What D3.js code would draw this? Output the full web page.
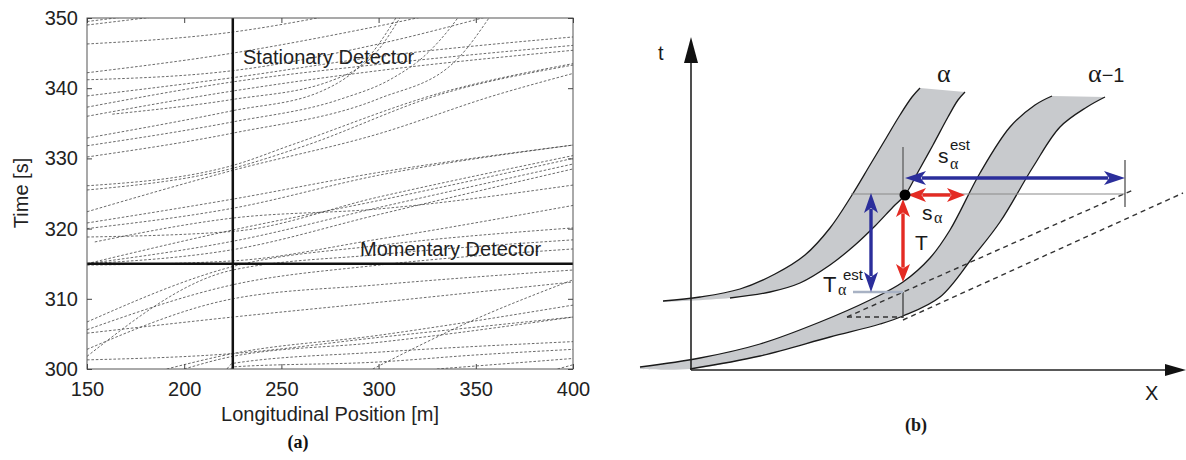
<!DOCTYPE html>
<html><head><meta charset="utf-8">
<script src="https://cdn.jsdelivr.net/npm/d3@7"></script>
<style>body{margin:0;background:#fff}svg{display:block}</style>
</head><body>
<svg id="c" width="1186" height="460"></svg>
<script>
// ---------- Panel (a) data ----------
const xTicks = [150, 200, 250, 300, 350, 400];
const tTicks = [300, 310, 320, 330, 340, 350];
const stationaryX = 225;
const momentaryT = 315;
// vehicle trajectories: [position m, time s]
const trajectories = [
  [[150,349.5],[200,351.2]],
  [[150,349.0],[210,351.0]],
  [[150,346.3],[225,348.0],[280,350.6]],
  [[150,342.2],[225,345.0],[290,348.3],[330,350.6]],
  [[150,341.2],[225,342.5],[300,346.3],[360,350.5]],
  [[150,338.9],[225,341.5],[300,344.5],[400,347.3]],
  [[150,337.3],[225,340.9],[300,343.4],[400,346.1]],
  [[150,336.0],[225,339.6],[300,342.5],[400,345.4]],
  [[163,336.3],[225,338.4],[275,341.0],[300,345.5],[312,350.5]],
  [[150,332.9],[225,336.8],[270,339.5],[296,344.8],[310,350.5]],
  [[150,331.8],[225,335.2],[280,338.4],[307,341.4],[324,344.7],[338,349.0],[342,350.5]],
  [[150,330.2],[225,333.6],[300,338.5],[340,344.0],[358,350.5]],
  [[150,326.1],[225,329.0],[255,331.9],[334,339.5],[400,343.5]],
  [[150,325.5],[225,328.6],[260,331.6],[334,339.3],[400,343.3]],
  [[150,322.4],[225,328.3],[300,333.5],[360,339.0],[400,342.1]],
  [[150,320.8],[225,324.2],[300,328.0],[400,331.9]],
  [[150,320.0],[225,322.9],[300,327.6],[400,331.9]],
  [[150,318.8],[225,319.6],[300,324.5],[400,330.4]],
  [[154,318.1],[225,321.5],[300,322.8],[400,326.2]],
  [[150,315.0],[225,319.8],[300,324.0],[400,330.0]],
  [[150,315.0],[225,318.2],[300,323.0],[400,329.2]],
  [[150,315.0],[225,317.0],[300,322.0],[400,328.5]],
  [[150,314.8],[225,315.4],[300,318.5],[400,323.3]],
  [[150,306.7],[225,314.6],[300,317.6],[400,320.1]],
  [[150,301.8],[225,314.1],[300,316.3],[400,318.4]],
  [[150,305.6],[225,312.0],[300,314.8],[400,317.1]],
  [[150,302.8],[225,310.0],[300,312.0],[400,314.1]],
  [[150,305.1],[225,307.4],[300,309.5],[400,312.4]],
  [[150,301.3],[225,302.2],[300,304.5],[400,307.4]],
  [[191,300.0],[225,302.2],[300,304.8],[400,309.1]],
  [[200,300.0],[225,301.8],[300,303.8],[400,307.4]],
  [[222,300.0],[225,300.8],[300,302.4],[400,303.9]],
  [[224,300.0],[225,300.3],[300,301.0],[350,302.0],[400,302.8]],
  [[297,300.0],[349,307.0],[400,312.7]],
  [[330,300.0],[400,301.5]],
  [[392,300.0],[400,300.6]]
];

// ---------- Panel (b) data (diagram units: u right, v up from origin) ----------
const alphaUpper = [[-28,69],[9,73],[49,81],[84,96],[114,115],[139,142],[161,175],[179,205],[194,230],[209,255],[221,273],[229,282]];
const alphaLower = [[-28,68],[39,72],[79,78],[109,87],[139,105],[164,125],[184,144],[202,163],[214,175],[227,198],[242,225],[257,253],[267,270],[274,278]];
const prevUpper = [[-51,3],[9,12],[69,26],[129,48],[179,70],[212,88],[239,112],[259,140],[289,197],[319,243],[344,265],[361,274]];
const prevLower = [[-51,1],[-1,1],[69,14],[139,33],[189,46],[212,54],[249,73],[282,113],[309,148],[342,203],[369,243],[396,263],[414,273]];
const dashedLines = [
  [[156,53],[442,180]],
  [[156,53],[212,53]],
  [[212,50],[492,177]]
];
const thinLines = [
  {p:[[160,176],[434,176]], c:"#8a8a8a", w:1.1},
  {p:[[212,175],[212,223]], c:"#555", w:1.2},
  {p:[[434,163],[434,210]], c:"#444", w:1.2},
  {p:[[212,78],[212,52]], c:"#333", w:1.2},
  {p:[[162,78],[212,78]], c:"#a8b2c4", w:2.6}
];
const arrows = [
  {p:[[214,192],[434,192]], c:"#2b2e9b", head:21},
  {p:[[217,175],[274,175]], c:"#e42b23", head:18},
  {p:[[212,171],[212,88]], c:"#e42b23", head:18},
  {p:[[180,177],[180,78]], c:"#2b2e9b", head:20}
];
const dotPoint = [214,175];

const svg = d3.select("#c");
const sans = "'Liberation Sans', Arial, Helvetica, sans-serif";
const serif = "'Liberation Serif', 'Times New Roman', serif";

// ===== Panel (a) =====
const x = d3.scaleLinear().domain([150,400]).range([87,573]);
const y = d3.scaleLinear().domain([300,350]).range([369,18]);
const ga = svg.append("g");
ga.append("clipPath").attr("id","clipA").append("rect")
  .attr("x",x(150)).attr("y",y(350)).attr("width",x(400)-x(150)).attr("height",y(300)-y(350));

const line = d3.line().x(d=>x(d[0])).y(d=>y(d[1])).curve(d3.curveMonotoneX);
ga.append("g").attr("clip-path","url(#clipA)")
  .selectAll("path").data(trajectories).join("path")
  .attr("d", line).attr("fill","none").attr("stroke","#3a3a3a")
  .attr("stroke-width",0.75).attr("stroke-dasharray","2.6,1.8");

// detectors
ga.append("line").attr("x1",x(stationaryX)).attr("x2",x(stationaryX)).attr("y1",y(350)).attr("y2",y(300))
  .attr("stroke","#111").attr("stroke-width",2.5);
ga.append("line").attr("x1",x(150)).attr("x2",x(400)).attr("y1",y(momentaryT)).attr("y2",y(momentaryT))
  .attr("stroke","#111").attr("stroke-width",2.5);

// frame
ga.append("rect").attr("x",x(150)).attr("y",y(350)).attr("width",x(400)-x(150)).attr("height",y(300)-y(350))
  .attr("fill","none").attr("stroke","#555").attr("stroke-width",1);

function styleAxis(g){
  g.select(".domain").remove();
  g.selectAll(".tick line").attr("stroke","#444");
  g.selectAll("text").attr("font-family",sans).attr("font-size",20).attr("fill","#222");
}
ga.append("g").attr("transform",`translate(0,${y(300)})`)
  .call(d3.axisBottom(x).tickValues(xTicks).tickSize(-5).tickPadding(13).tickFormat(d3.format("d"))).call(styleAxis);
ga.append("g").attr("transform",`translate(0,${y(350)})`)
  .call(d3.axisTop(x).tickValues(xTicks).tickSize(-5).tickFormat("")).call(styleAxis);
ga.append("g").attr("transform",`translate(${x(150)},0)`)
  .call(d3.axisLeft(y).tickValues(tTicks).tickSize(-5).tickPadding(9).tickFormat(d3.format("d"))).call(styleAxis);
ga.append("g").attr("transform",`translate(${x(400)},0)`)
  .call(d3.axisRight(y).tickValues(tTicks).tickSize(-5).tickFormat("")).call(styleAxis);

ga.append("text").attr("x",330).attr("y",421).attr("text-anchor","middle")
  .attr("font-family",sans).attr("font-size",20).attr("fill","#222").text("Longitudinal Position [m]");
ga.append("text").attr("transform","translate(28,193) rotate(-90)").attr("text-anchor","middle")
  .attr("font-family",sans).attr("font-size",20).attr("fill","#222").text("Time [s]");
ga.append("text").attr("x",243).attr("y",64)
  .attr("font-family",sans).attr("font-size",20).attr("fill","#222").text("Stationary Detector");
ga.append("text").attr("x",360).attr("y",256)
  .attr("font-family",sans).attr("font-size",20).attr("fill","#222").text("Momentary Detector");
ga.append("text").attr("x",298).attr("y",448).attr("text-anchor","middle")
  .attr("font-family",serif).attr("font-weight","bold").attr("font-size",18).attr("fill","#111").text("(a)");

// ===== Panel (b) =====
const bx = d3.scaleLinear().domain([0,495]).range([691,1186]);
const by = d3.scaleLinear().domain([0,333]).range([370,37]);
const gb = svg.append("g");
const edge = d3.line().x(d=>bx(d[0])).y(d=>by(d[1])).curve(d3.curveCatmullRom.alpha(0.5));

function band(upper, lower){
  const p1 = edge(upper);
  const p2 = edge(lower.slice().reverse());
  return p1 + "L" + p2.slice(1) + "Z";
}
gb.append("path").attr("d",band(alphaUpper,alphaLower)).attr("fill","#c8cacd");
gb.append("path").attr("d",band(prevUpper,prevLower)).attr("fill","#c8cacd");
[alphaUpper, alphaLower.slice(1), prevUpper, prevLower.slice(1)].forEach(pts=>{
  gb.append("path").attr("d",edge(pts)).attr("fill","none").attr("stroke","#1a1a1a").attr("stroke-width",1.3);
});

// dashed estimate lines
dashedLines.forEach(pts=>{
  gb.append("path").attr("d",d3.line().x(d=>bx(d[0])).y(d=>by(d[1]))(pts))
    .attr("fill","none").attr("stroke","#333").attr("stroke-width",1.4).attr("stroke-dasharray","5,4");
});
thinLines.forEach(l=>{
  gb.append("path").attr("d",d3.line().x(d=>bx(d[0])).y(d=>by(d[1]))(l.p))
    .attr("fill","none").attr("stroke",l.c).attr("stroke-width",l.w);
});

function doubleArrow(a){
  const [p,q] = a.p.map(d=>[bx(d[0]),by(d[1])]);
  const dx=q[0]-p[0], dy=q[1]-p[1], L=Math.hypot(dx,dy), ux=dx/L, uy=dy/L, nx=-uy, ny=ux;
  const h=a.head, w=7;
  gb.append("line").attr("x1",p[0]+ux*h*0.8).attr("y1",p[1]+uy*h*0.8)
    .attr("x2",q[0]-ux*h*0.8).attr("y2",q[1]-uy*h*0.8)
    .attr("stroke",a.c).attr("stroke-width",3.4);
  const head=(tip,dir)=>{
    const bxp=tip[0]-dir[0]*h, byp=tip[1]-dir[1]*h;
    const ix=tip[0]-dir[0]*h*0.75, iy=tip[1]-dir[1]*h*0.75;
    return `M${tip[0]},${tip[1]}L${bxp+nx*w},${byp+ny*w}L${ix},${iy}L${bxp-nx*w},${byp-ny*w}Z`;
  };
  gb.append("path").attr("d",head(q,[ux,uy])).attr("fill",a.c);
  gb.append("path").attr("d",head(p,[-ux,-uy])).attr("fill",a.c);
}
arrows.forEach(doubleArrow);
gb.append("circle").attr("cx",bx(dotPoint[0])).attr("cy",by(dotPoint[1])).attr("r",5.5).attr("fill","#000");

// axes
gb.append("line").attr("x1",bx(0)).attr("y1",by(0)).attr("x2",bx(0)).attr("y2",by(308)).attr("stroke","#222").attr("stroke-width",1.6);
gb.append("path").attr("d",`M${bx(0)},${by(333)}L${bx(0)-7},${by(307)}L${bx(0)+7},${by(307)}Z`).attr("fill","#111");
gb.append("line").attr("x1",bx(0)).attr("y1",by(0)).attr("x2",bx(476)).attr("y2",by(0)).attr("stroke","#222").attr("stroke-width",1.6);
gb.append("path").attr("d",`M${bx(495)},${by(0)}L${bx(474)},${by(0)-6}L${bx(474)},${by(0)+6}Z`).attr("fill","#111");

function txt(u,v,s,opts){
  const t=gb.append("text").attr("x",bx(u)).attr("y",by(v)).attr("font-family",opts.f||sans)
    .attr("font-size",opts.s||20).attr("fill","#1a1a1a").text(s);
  if(opts.a) t.attr("text-anchor",opts.a);
  if(opts.b) t.attr("font-weight","bold");
  return t;
}
txt(-33,310,"t",{});
txt(454,-30,"X",{});
txt(246,288,"α",{f:serif,s:26});
const am = gb.append("text").attr("x",bx(397)).attr("y",by(288)).attr("fill","#1a1a1a");
am.append("tspan").attr("font-family",serif).attr("font-size",26).text("α");
am.append("tspan").attr("font-family",sans).attr("font-size",20).text("−1");
// s_alpha^est
txt(247,207,"s",{s:21}); txt(259,220,"est",{s:15}); txt(259,201,"α",{f:serif,s:16});
// s_alpha
txt(231,150,"s",{s:21}); txt(243,147,"α",{f:serif,s:16});
// T
txt(224,120,"T",{s:21});
// T_alpha^est
txt(132,78,"T",{s:22}); txt(152,90,"est",{s:15}); txt(147,75,"α",{f:serif,s:16});
txt(225,-61,"(b)",{f:serif,s:18,a:"middle",b:true});
</script>
</body></html>
